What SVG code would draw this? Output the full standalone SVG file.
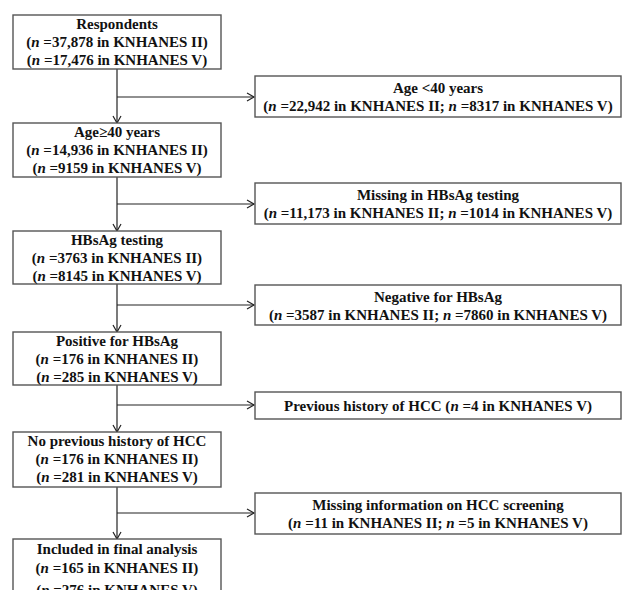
<svg xmlns="http://www.w3.org/2000/svg" width="625" height="590" viewBox="0 0 625 590">
<style>
.box{fill:#fff;stroke:#555;stroke-width:1.4}
.t{font-family:"Liberation Serif","Times New Roman",serif;font-weight:bold;font-size:15px;fill:#111;text-anchor:middle}
.c{fill:none;stroke:#222;stroke-width:1.2}
.i{font-style:italic}
</style>
<defs>
<marker id="ah" markerWidth="10" markerHeight="10" refX="8" refY="5" orient="auto" markerUnits="userSpaceOnUse">
<path d="M1,1 L8,5 L1,9" fill="none" stroke="#222" stroke-width="1.2"/>
</marker>
</defs>
<rect width="625" height="590" fill="#fff"/>
<g id="connectors">
<path class="c" d="M117,69 V123" marker-end="url(#ah)"/>
<path class="c" d="M117,97 H254" marker-end="url(#ah)"/>
<path class="c" d="M117,177 V231" marker-end="url(#ah)"/>
<path class="c" d="M117,204 H254" marker-end="url(#ah)"/>
<path class="c" d="M117,284 V332" marker-end="url(#ah)"/>
<path class="c" d="M117,305 H254" marker-end="url(#ah)"/>
<path class="c" d="M117,385 V432" marker-end="url(#ah)"/>
<path class="c" d="M117,405 H254" marker-end="url(#ah)"/>
<path class="c" d="M117,487 V539" marker-end="url(#ah)"/>
<path class="c" d="M117,513 H254" marker-end="url(#ah)"/>
</g>
<g id="respondents">
<rect class="box" x="13" y="15" width="208" height="54"/>
<text class="t" x="117" y="29">Respondents</text>
<text class="t" x="117" y="47">(<tspan class="i">n</tspan> =37,878 in KNHANES II)</text>
<text class="t" x="117" y="65">(<tspan class="i">n</tspan> =17,476 in KNHANES V)</text>
</g>
<g id="age40plus">
<rect class="box" x="13" y="123" width="208" height="54"/>
<text class="t" x="117" y="137">Age≥40 years</text>
<text class="t" x="117" y="155">(<tspan class="i">n</tspan> =14,936 in KNHANES II)</text>
<text class="t" x="117" y="173">(<tspan class="i">n</tspan> =9159 in KNHANES V)</text>
</g>
<g id="hbsag-testing">
<rect class="box" x="13" y="231" width="208" height="53"/>
<text class="t" x="117" y="245">HBsAg testing</text>
<text class="t" x="117" y="263">(<tspan class="i">n</tspan> =3763 in KNHANES II)</text>
<text class="t" x="117" y="281">(<tspan class="i">n</tspan> =8145 in KNHANES V)</text>
</g>
<g id="positive">
<rect class="box" x="13" y="332" width="208" height="53"/>
<text class="t" x="117" y="346">Positive for HBsAg</text>
<text class="t" x="117" y="364">(<tspan class="i">n</tspan> =176 in KNHANES II)</text>
<text class="t" x="117" y="382">(<tspan class="i">n</tspan> =285 in KNHANES V)</text>
</g>
<g id="no-previous">
<rect class="box" x="13" y="432" width="208" height="55"/>
<text class="t" x="117" y="446">No previous history of HCC</text>
<text class="t" x="117" y="464">(<tspan class="i">n</tspan> =176 in KNHANES II)</text>
<text class="t" x="117" y="482">(<tspan class="i">n</tspan> =281 in KNHANES V)</text>
</g>
<g id="included">
<rect class="box" x="13" y="539" width="208" height="70"/>
<text class="t" x="117" y="554">Included in final analysis</text>
<text class="t" x="117" y="573">(<tspan class="i">n</tspan> =165 in KNHANES II)</text>
<text class="t" x="117" y="595">(<tspan class="i">n</tspan> =276 in KNHANES V)</text>
</g>
<g id="age-under40">
<rect class="box" x="255" y="76" width="366" height="41"/>
<text class="t" x="438" y="93">Age &lt;40 years</text>
<text class="t" x="438" y="111">(<tspan class="i">n</tspan> =22,942 in KNHANES II; <tspan class="i">n</tspan> =8317 in KNHANES V)</text>
</g>
<g id="missing-hbsag">
<rect class="box" x="255" y="183" width="366" height="41"/>
<text class="t" x="438" y="200">Missing in HBsAg testing</text>
<text class="t" x="438" y="218">(<tspan class="i">n</tspan> =11,173 in KNHANES II; <tspan class="i">n</tspan> =1014 in KNHANES V)</text>
</g>
<g id="negative">
<rect class="box" x="255" y="285" width="366" height="40"/>
<text class="t" x="438" y="302">Negative for HBsAg</text>
<text class="t" x="438" y="320">(<tspan class="i">n</tspan> =3587 in KNHANES II; <tspan class="i">n</tspan> =7860 in KNHANES V)</text>
</g>
<g id="previous-hcc">
<rect class="box" x="255" y="392" width="366" height="27"/>
<text class="t" x="438" y="411">Previous history of HCC (<tspan class="i">n</tspan> =4 in KNHANES V)</text>
</g>
<g id="missing-screening">
<rect class="box" x="255" y="493" width="366" height="41"/>
<text class="t" x="438" y="510">Missing information on HCC screening</text>
<text class="t" x="438" y="528">(<tspan class="i">n</tspan> =11 in KNHANES II; <tspan class="i">n</tspan> =5 in KNHANES V)</text>
</g>
</svg>
